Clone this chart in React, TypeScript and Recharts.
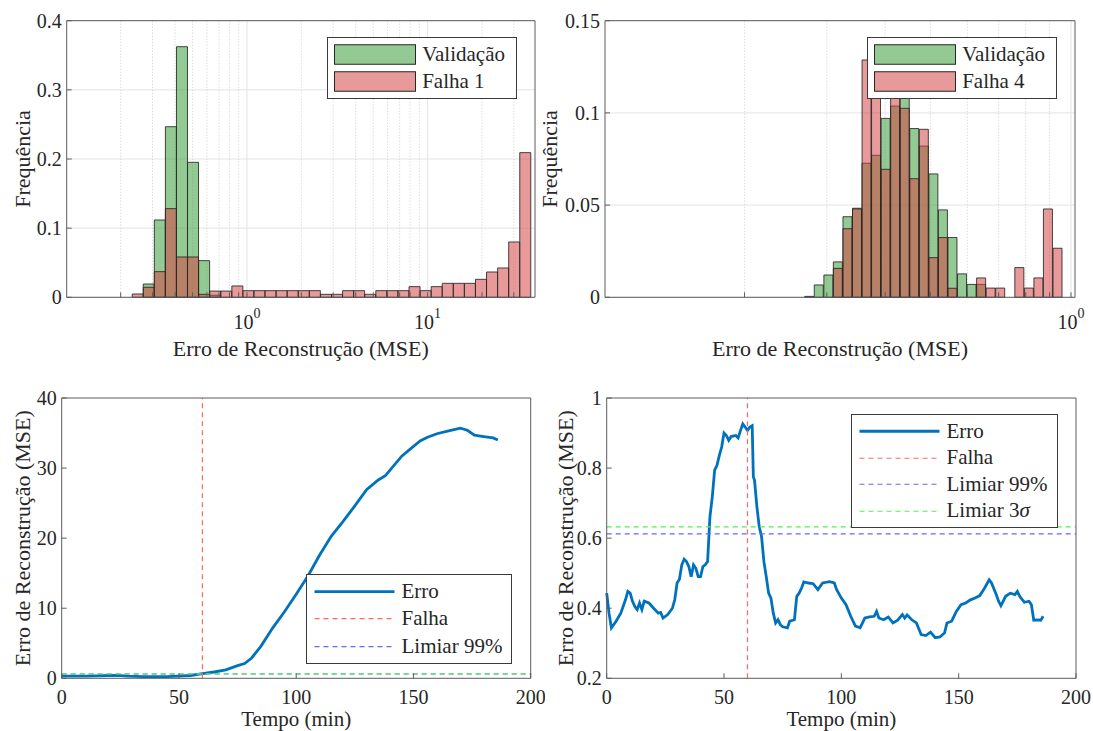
import React from 'react';
import { BarChart, Bar, LineChart, Line, XAxis, YAxis, CartesianGrid, Legend } from 'recharts';

const FONT = '"Liberation Serif", "Times New Roman", Times, serif';
const INK = '#262626';
const AXIS = '#5c5c5c';
const GREEN = '#3a9e3a';
const RED = '#d64545';
const BAR_EDGE = '#262626';
const ERRO = '#0072BD';
const FALHA = '#ff6666';
const L99 = '#6666ff';
const L3S = '#55ee55';

// histogram for falha 1: bin centres (MSE, log spaced) and frequencies
const bins1 = [0.2485, 0.2861, 0.3295, 0.3794, 0.4369, 0.5031, 0.5794, 0.6672, 0.7684, 0.8849, 1.019, 1.173,
  1.351, 1.556, 1.792, 2.064, 2.377, 2.737, 3.152, 3.63, 4.18, 4.814, 5.544, 6.384, 7.352, 8.467, 9.75, 11.23,
  12.93, 14.89, 17.15, 19.75, 22.74, 26.19, 30.16, 34.73];
const valid1 = [0, 0.0192, 0.1118, 0.2467, 0.3624, 0.1952, 0.053, 0.003, 0, 0, 0, 0, 0, 0, 0, 0, 0, 0, 0, 0, 0,
  0, 0, 0, 0, 0, 0, 0, 0, 0, 0, 0, 0, 0, 0, 0];
const fail1 = [0.0048, 0.0145, 0.0371, 0.1282, 0.0583, 0.0583, 0.0043, 0.009, 0.009, 0.0164, 0.0096, 0.0096,
  0.0096, 0.0096, 0.0096, 0.0096, 0.0096, 0.0043, 0.0043, 0.0096, 0.0096, 0.0043, 0.0096, 0.0096, 0.0096, 0.0154,
  0.0096, 0.0154, 0.0202, 0.0202, 0.0202, 0.026, 0.0366, 0.0424, 0.08, 0.2092];

// histogram for falha 4
const bins4 = [0.2754, 0.2887, 0.3027, 0.3172, 0.3326, 0.3486, 0.3654, 0.3829, 0.4014, 0.4207, 0.4411, 0.4623,
  0.4846, 0.508, 0.5325, 0.5581, 0.5851, 0.6132, 0.6428, 0.6737, 0.7063, 0.7403, 0.7761, 0.8134, 0.8527, 0.8936,
  0.9369];
const valid4 = [0.0005, 0.0067, 0.0121, 0.0192, 0.0437, 0.0483, 0.0727, 0.077, 0.097, 0.1037, 0.113, 0.0915,
  0.082, 0.0669, 0.0474, 0.0324, 0.0127, 0.007, 0.007, 0, 0, 0, 0, 0, 0, 0, 0];
const fail4 = [0, 0, 0, 0.0157, 0.0372, 0.0479, 0.1287, 0.115, 0.0694, 0.112, 0.1025, 0.0643, 0.0911, 0.0215,
  0.0324, 0.0049, 0, 0, 0.0105, 0.005, 0.005, 0, 0.0161, 0.005, 0.0105, 0.0479, 0.0266];

const logTicks1 = [0.2, 0.3, 0.4, 0.5, 0.6, 0.7, 0.8, 0.9, 1, 2, 3, 4, 5, 6, 7, 8, 9, 10, 20, 30];
const gridMajor1 = [1, 10];
const gridMinor1 = [0.2, 0.3, 0.4, 0.5, 0.6, 0.7, 0.8, 0.9, 2, 3, 4, 5, 6, 7, 8, 9, 20, 30];
const logTicks4 = [0.2, 0.3, 0.4, 0.5, 0.6, 0.7, 0.8, 0.9, 1];
const gridMajor4 = [1];
const gridMinor4 = [0.2, 0.3, 0.4, 0.5, 0.6, 0.7, 0.8, 0.9];
const freqTicks1 = [0, 0.1, 0.2, 0.3, 0.4];
const freqTicks4 = [0, 0.05, 0.1, 0.15];

// reconstruction error over time
const tempo1 = [0, 5, 10, 15, 20, 24, 28, 35, 45, 55, 60, 65, 70, 75, 78, 81, 85, 90, 95, 100, 105, 110, 115, 120,
  125, 130, 135, 138, 140, 145, 150, 153, 156, 160, 165, 170, 173, 176, 180, 184, 186];
const erro1 = [0.3, 0.3, 0.3, 0.35, 0.4, 0.43, 0.3, 0.25, 0.25, 0.4, 0.66, 0.9, 1.2, 1.8, 2.1, 2.9, 4.6, 7.2, 9.5,
  12.0, 14.6, 17.6, 20.3, 22.4, 24.6, 26.9, 28.3, 28.9, 29.7, 31.7, 33.1, 33.9, 34.4, 34.9, 35.3, 35.7, 35.4, 34.7,
  34.5, 34.3, 34.0];
const tempo4 = [0, 1, 2, 4, 6, 8, 9, 10, 11, 12, 13, 14, 15, 16, 18, 20, 22, 23, 24, 26, 28, 29, 30, 31, 32, 33, 34,
  35, 36, 37, 38, 39, 40, 41, 42, 43, 44, 45, 46, 47, 48, 49, 50, 51, 52, 53, 55, 56, 57, 58, 59, 60, 61, 62, 62.5,
  63, 64, 65, 66, 67, 68, 69, 70, 71, 72, 73, 74, 75, 77, 78, 80, 81, 82, 83, 84, 86, 88, 90, 92, 95, 97, 98, 100,
  102, 104, 106, 108, 110, 112, 114, 115, 116, 118, 120, 122, 124, 126, 127, 128, 130, 132, 134, 136, 138, 140,
  142, 144, 145, 147, 149, 151, 153, 155, 157, 159, 161, 163, 164, 166, 167, 168, 170, 172, 174, 175, 176, 178,
  180, 181, 182, 184, 185, 186];
const erro4 = [0.443, 0.386, 0.344, 0.363, 0.386, 0.424, 0.448, 0.443, 0.42, 0.405, 0.396, 0.415, 0.396, 0.42,
  0.415, 0.4, 0.386, 0.388, 0.372, 0.382, 0.4, 0.424, 0.472, 0.483, 0.524, 0.54, 0.533, 0.519, 0.49, 0.524, 0.514,
  0.49, 0.49, 0.519, 0.524, 0.533, 0.661, 0.718, 0.794, 0.808, 0.836, 0.86, 0.9, 0.893, 0.879, 0.89, 0.893, 0.886,
  0.907, 0.926, 0.917, 0.907, 0.917, 0.921, 0.775, 0.765, 0.69, 0.633, 0.604, 0.533, 0.49, 0.443, 0.429, 0.386,
  0.358, 0.367, 0.353, 0.347, 0.344, 0.363, 0.367, 0.434, 0.443, 0.457, 0.475, 0.472, 0.47, 0.453, 0.472, 0.476,
  0.472, 0.453, 0.429, 0.41, 0.377, 0.349, 0.344, 0.372, 0.375, 0.377, 0.391, 0.372, 0.367, 0.375, 0.358, 0.366,
  0.382, 0.372, 0.381, 0.367, 0.358, 0.325, 0.322, 0.332, 0.316, 0.318, 0.33, 0.358, 0.363, 0.391, 0.41, 0.415,
  0.424, 0.429, 0.436, 0.457, 0.481, 0.472, 0.439, 0.42, 0.407, 0.434, 0.443, 0.439, 0.448, 0.434, 0.417, 0.42,
  0.41, 0.366, 0.367, 0.366, 0.377];
const FALHA_T = 60;
const LIMIAR_99 = 0.612;
const LIMIAR_3S = 0.632;
const tempoTicks = [0, 50, 100, 150, 200];
const erroTicks1 = [0, 10, 20, 30, 40];
const erroTicks4 = [0.2, 0.4, 0.6, 0.8, 1];

const TICK_STYLE = { fontSize: 20, fill: INK, fontFamily: FONT };

const histRows = (bins: number[], valid: number[], fail: number[]) =>
  bins.map((mse, i) => ({ mse, valid: valid[i], fail: fail[i] }));

const LogTick = (props: any) => {
  const { x, y, payload } = props;
  const e = Math.log10(payload.value);
  if (Math.abs(e - Math.round(e)) > 1e-9) return null;
  return (
    <text x={x} y={y} dy={19} textAnchor="middle" fontSize={20} fill={INK} fontFamily={FONT}>
      10<tspan dy={-11} fontSize={14}>{Math.round(e)}</tspan>
    </text>
  );
};

const legendLabel = (s: string) =>
  s.endsWith('σ') ? <>{s.slice(0, -1)}<i>σ</i></> : s;

function LegendBox({ items, width, rowHeight }: { items: any[]; width: number; rowHeight: number }) {
  return (
    <div style={{ width, boxSizing: 'border-box', border: '1px solid #3a3a3a', background: '#fff',
      padding: '3px 0', fontFamily: FONT, fontSize: 21, color: INK }}>
      {items.map((it) => {
        const p = it.payload || {};
        return (
          <div key={it.value} style={{ display: 'flex', alignItems: 'center', height: rowHeight }}>
            <svg width={88} height={rowHeight} style={{ flex: 'none', display: 'block' }}>
              {it.type === 'rect' ? (
                <rect x={6.5} y={(rowHeight - 19.5) / 2} width={81} height={19.5} fill={it.color}
                  fillOpacity={p.fillOpacity ?? 0.55} stroke={BAR_EDGE} strokeWidth={1} />
              ) : (
                <line x1={7.5} x2={87.5} y1={rowHeight / 2} y2={rowHeight / 2} stroke={it.color}
                  strokeWidth={p.strokeWidth ?? 1.2} strokeDasharray={p.strokeDasharray} />
              )}
            </svg>
            <span style={{ marginLeft: 6.5, whiteSpace: 'nowrap', lineHeight: 1 }}>{legendLabel(String(it.value))}</span>
          </div>
        );
      })}
    </div>
  );
}

const legendContent = (order: string[], width: number, rowHeight: number) => (props: any) => {
  const payload: any[] = props.payload || [];
  const items = order.map((n) => payload.find((q) => q.value === n)).filter(Boolean);
  return <LegendBox items={items} width={width} rowHeight={rowHeight} />;
};

type HistProps = {
  data: { mse: number; valid: number; fail: number }[];
  domain: [number, number];
  ticks: number[];
  gridMajor: number[];
  gridMinor: number[];
  yTicks: number[];
  failName: string;
  width: number;
  marginRight: number;
  yAxisWidth: number;
  yLabelOffset: number;
  legendLeft: number;
  legendWidth: number;
};

function Histograma(p: HistProps) {
  const yDomain: [number, number] = [p.yTicks[0], p.yTicks[p.yTicks.length - 1]];
  return (
    <BarChart width={p.width} height={365} data={p.data} barCategoryGap={0} barGap={0} style={{ fontFamily: FONT }}
      margin={{ top: 19.7, right: p.marginRight, bottom: 0, left: 0 }}>
      <CartesianGrid xAxisId="x" stroke="#e4e4e4" verticalValues={p.gridMajor} />
      <CartesianGrid xAxisId="x" stroke="#cdcdcd" strokeDasharray="1 2" horizontal={false} verticalValues={p.gridMinor} />
      <XAxis xAxisId="x" dataKey="mse" type="number" scale="log" domain={p.domain} allowDataOverflow
        ticks={p.ticks} interval={0} tick={<LogTick />} tickSize={-5} tickMargin={18} height={67.7} stroke={AXIS}
        label={{ value: 'Erro de Reconstrução (MSE)', position: 'insideBottom', offset: 9.5, fontSize: 22, fill: INK,
          fontFamily: FONT }} />
      <XAxis xAxisId="x2" dataKey="mse" type="number" scale="log" domain={p.domain} allowDataOverflow hide />
      <XAxis xAxisId="top" orientation="top" type="number" scale="log" domain={p.domain} allowDataOverflow
        ticks={p.ticks} interval={0} tick={false} tickSize={-5} height={1} stroke={AXIS} />
      <YAxis domain={yDomain} ticks={p.yTicks} interval={0} tickSize={-5} tickMargin={10} width={p.yAxisWidth}
        stroke={AXIS} tick={TICK_STYLE}
        label={{ value: 'Frequência', angle: -90, position: 'insideLeft', offset: p.yLabelOffset, fontSize: 22,
          fill: INK, fontFamily: FONT, style: { textAnchor: 'middle' } }} />
      <YAxis yAxisId="right" orientation="right" domain={yDomain} ticks={p.yTicks} interval={0} tick={false}
        tickSize={-5} width={1} stroke={AXIS} />
      <Legend layout="vertical" align="center" verticalAlign="middle"
        wrapperStyle={{ left: p.legendLeft, top: 36.7, width: p.legendWidth }}
        content={legendContent(['Validação', p.failName], p.legendWidth, 27)} />
      <Bar xAxisId="x" dataKey="valid" name="Validação" fill={GREEN} fillOpacity={0.55} stroke={BAR_EDGE}
        strokeOpacity={0.85} strokeWidth={1} isAnimationActive={false} />
      <Bar xAxisId="x2" dataKey="fail" name={p.failName} fill={RED} fillOpacity={0.55} stroke={BAR_EDGE}
        strokeOpacity={0.85} strokeWidth={1} isAnimationActive={false} />
    </BarChart>
  );
}

type ErroProps = {
  tempo: number[];
  erro: number[];
  yTicks: number[];
  width: number;
  marginRight: number;
  yLabelOffset: number;
  withSigma: boolean;
  legendTop: number;
  legendWidth: number;
  rowHeight: number;
};

function ErroChart(p: ErroProps) {
  const yDomain: [number, number] = [p.yTicks[0], p.yTicks[p.yTicks.length - 1]];
  const xDomain: [number, number] = [tempoTicks[0], tempoTicks[tempoTicks.length - 1]];
  const serie = p.tempo.map((t, i) => ({ t, v: p.erro[i] }));
  const falha = [{ t: FALHA_T, v: yDomain[0] }, { t: FALHA_T, v: yDomain[1] }];
  const lim99 = [{ t: xDomain[0], v: LIMIAR_99 }, { t: xDomain[1], v: LIMIAR_99 }];
  const lim3s = [{ t: xDomain[0], v: LIMIAR_3S }, { t: xDomain[1], v: LIMIAR_3S }];
  const order = p.withSigma ? ['Erro', 'Falha', 'Limiar 99%', 'Limiar 3σ'] : ['Erro', 'Falha', 'Limiar 99%'];
  return (
    <LineChart width={p.width} height={366} margin={{ top: 32, right: p.marginRight, bottom: 0, left: 0 }}
      style={{ fontFamily: FONT }}>
      <XAxis dataKey="t" type="number" domain={xDomain} ticks={tempoTicks} interval={0} tickSize={-5}
        tickMargin={16} height={52.7} stroke={AXIS} tick={TICK_STYLE}
        label={{ value: 'Tempo (min)', position: 'insideBottom', offset: 4.6, fontSize: 21, fill: INK,
          fontFamily: FONT }} />
      <XAxis xAxisId="top" orientation="top" type="number" domain={xDomain} ticks={tempoTicks} interval={0}
        tick={false} tickSize={-5} height={1} stroke={AXIS} />
      <YAxis domain={yDomain} ticks={p.yTicks} interval={0} tickSize={-5} tickMargin={10} width={61.7}
        stroke={AXIS} tick={TICK_STYLE}
        label={{ value: 'Erro de Reconstrução (MSE)', angle: -90, position: 'insideLeft', offset: p.yLabelOffset,
          fontSize: 22, fill: INK, fontFamily: FONT, style: { textAnchor: 'middle' } }} />
      <YAxis yAxisId="right" orientation="right" domain={yDomain} ticks={p.yTicks} interval={0} tick={false}
        tickSize={-5} width={1} stroke={AXIS} />
      <Legend layout="vertical" align="center" verticalAlign="middle"
        wrapperStyle={{ left: 306, top: p.legendTop, width: p.legendWidth }}
        content={legendContent(order, p.legendWidth, p.rowHeight)} />
      <Line data={serie} dataKey="v" name="Erro" stroke={ERRO} strokeWidth={2.8} dot={false}
        isAnimationActive={false} />
      <Line data={falha} dataKey="v" name="Falha" stroke={FALHA} strokeWidth={1.2} strokeDasharray="5 4"
        dot={false} isAnimationActive={false} />
      <Line data={lim99} dataKey="v" name="Limiar 99%" stroke={L99} strokeWidth={1.2} strokeDasharray="5 4"
        dot={false} isAnimationActive={false} />
      <Line data={lim3s} dataKey="v" name="Limiar 3σ" stroke={L3S} strokeWidth={1.2} strokeDasharray="5 4"
        dot={false} isAnimationActive={false} legendType={p.withSigma ? 'line' : 'none'} />
    </LineChart>
  );
}

export default function App() {
  return (
    <div style={{ position: 'absolute', left: 0, top: 0, width: 1093, height: 731, background: '#fff',
      overflow: 'hidden', fontFamily: FONT }}>
      <div style={{ position: 'absolute', left: 0, top: 0 }}>
        <Histograma data={histRows(bins1, valid1, fail1)} domain={[0.1005, 39.3]} ticks={logTicks1}
          gridMajor={gridMajor1} gridMinor={gridMinor1} yTicks={freqTicks1} failName="Falha 1" width={545}
          marginRight={9} yAxisWidth={66.7} yLabelOffset={22} legendLeft={326.7} legendWidth={190} />
      </div>
      <div style={{ position: 'absolute', left: 530, top: 0 }}>
        <Histograma data={histRows(bins4, valid4, fail4)} domain={[0.1005, 1.02]} ticks={logTicks4}
          gridMajor={gridMajor4} gridMinor={gridMinor4} yTicks={freqTicks4} failName="Falha 4" width={563}
          marginRight={17} yAxisWidth={75} yLabelOffset={19} legendLeft={336.7} legendWidth={190.5} />
      </div>
      <div style={{ position: 'absolute', left: 0, top: 365 }}>
        <ErroChart tempo={tempo1} erro={erro1} yTicks={erroTicks1} width={545} marginRight={13.3}
          yLabelOffset={22} withSigma={false} legendTop={209} legendWidth={206} rowHeight={27.3} />
      </div>
      <div style={{ position: 'absolute', left: 545, top: 365 }}>
        <ErroChart tempo={tempo4} erro={erro4} yTicks={erroTicks4} width={548} marginRight={16}
          yLabelOffset={20} withSigma legendTop={49} legendWidth={207} rowHeight={26.5} />
      </div>
    </div>
  );
}
